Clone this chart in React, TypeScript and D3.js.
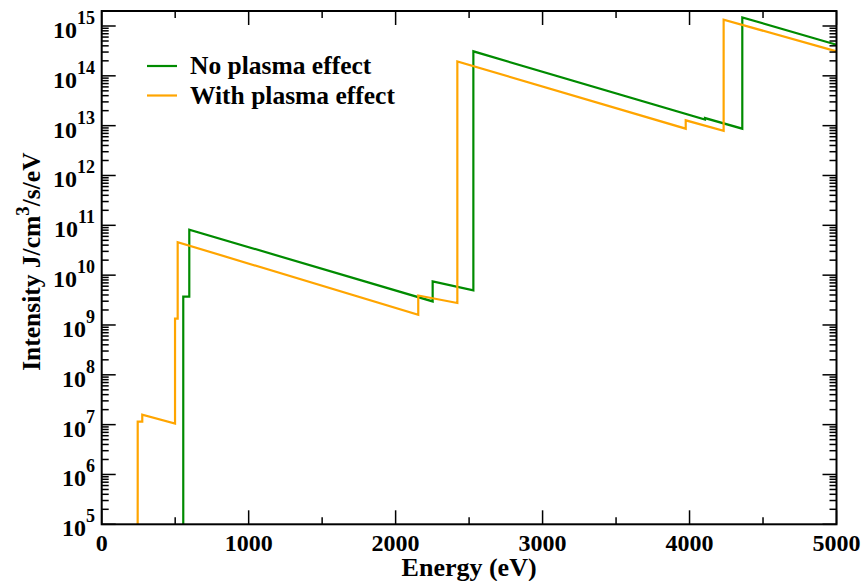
import React from "react";
import * as d3 from "d3";

const xTicks = [0, 1000, 2000, 3000, 4000, 5000];
const xMinorTicks = [500, 1500, 2500, 3500, 4500];
const yExponents = [5, 6, 7, 8, 9, 10, 11, 12, 13, 14, 15];

const noPlasmaE = [555, 555, 596, 596, 2252, 2252, 2529, 2529, 4105, 4105, 4359, 4359, 5000];
const noPlasmaV = [1e3, 3.7e9, 3.7e9, 8.2e10, 2.97e9, 7.5e9, 4.94e9, 3.1e14, 1.32e13, 1.42e13, 8.7e12, 1.49e15, 4.2e14];

const plasmaE = [244, 245, 245, 276, 276, 499, 499, 517, 517, 2154, 2154, 2420, 2420, 3974, 3974, 4232, 4232, 5000];
const plasmaV = [1e3, 5e5, 1.15e7, 1.15e7, 1.58e7, 1.05e7, 1.34e9, 1.34e9, 4.6e10, 1.6e9, 3.9e9, 2.76e9, 1.95e14, 8.7e12, 1.28e13, 7.9e12, 1.34e15, 3.1e14];

const seriesNames = ["No plasma effect", "With plasma effect"];
const seriesColors = ["#008b00", "#ffa500"];

const W = 864;
const H = 581;
const L = 101.7, R = 836.5, T = 11, B = 524.3;
const FONT = "'Liberation Serif', 'Times New Roman', serif";

export default function App() {
  const x = d3.scaleLinear().domain([0, 5000]).range([L, R]);
  const y = d3.scaleLog().domain([1e5, 2e15]).range([B, T]);
  const line = d3
    .line<[number, number]>()
    .x((d) => x(d[0]))
    .y((d) => y(d[1]));

  const series = [
    noPlasmaE.map((e, i) => [e, noPlasmaV[i]] as [number, number]),
    plasmaE.map((e, i) => [e, plasmaV[i]] as [number, number]),
  ];

  const majorLen = 14;
  const minorLen = 7;
  const yMinor: number[] = [];
  for (let k = 5; k <= 15; k++) {
    for (let m = 2; m <= 9; m++) {
      const v = m * Math.pow(10, k);
      if (v < 2e15) yMinor.push(v);
    }
  }

  return (
    <svg
      width={W}
      height={H}
      style={{ position: "fixed", left: 0, top: 0, background: "#fff" }}
      fontFamily={FONT}
      fontWeight="bold"
    >
      <rect x={0} y={0} width={W} height={H} fill="#fff" />
      <defs>
        <clipPath id="plotclip">
          <rect x={L} y={T} width={R - L} height={B - T} />
        </clipPath>
      </defs>

      {/* data lines */}
      <g clipPath="url(#plotclip)">
        {series.map((s, i) => (
          <path
            key={i}
            d={line(s) || ""}
            fill="none"
            stroke={seriesColors[i]}
            strokeWidth={2.2}
            strokeLinejoin="miter"
          />
        ))}
      </g>

      {/* ticks */}
      <g stroke="#000" strokeWidth={1.5}>
        {xTicks.map((t) => (
          <g key={"xt" + t}>
            <line x1={x(t)} x2={x(t)} y1={B} y2={B - majorLen} />
            <line x1={x(t)} x2={x(t)} y1={T} y2={T + majorLen} />
          </g>
        ))}
        {xMinorTicks.map((t) => (
          <g key={"xm" + t}>
            <line x1={x(t)} x2={x(t)} y1={B} y2={B - minorLen} />
            <line x1={x(t)} x2={x(t)} y1={T} y2={T + minorLen} />
          </g>
        ))}
        {yExponents.map((k) => {
          const yy = y(Math.pow(10, k));
          return (
            <g key={"yt" + k}>
              <line x1={L} x2={L + majorLen} y1={yy} y2={yy} />
              <line x1={R} x2={R - majorLen} y1={yy} y2={yy} />
            </g>
          );
        })}
        {yMinor.map((v, i) => {
          const yy = y(v);
          return (
            <g key={"ym" + i}>
              <line x1={L} x2={L + minorLen} y1={yy} y2={yy} />
              <line x1={R} x2={R - minorLen} y1={yy} y2={yy} />
            </g>
          );
        })}
      </g>

      {/* frame */}
      <rect x={L} y={T} width={R - L} height={B - T} fill="none" stroke="#000" strokeWidth={2} />

      {/* x tick labels */}
      {xTicks.map((t) => (
        <text key={"xl" + t} x={x(t)} y={551} textAnchor="middle" fontSize={24} fill="#000">
          {t}
        </text>
      ))}

      {/* y tick labels */}
      {yExponents.map((k) => {
        const yy = y(Math.pow(10, k));
        return (
          <text key={"yl" + k} x={95} y={yy + 12} textAnchor="end" fontSize={24} fill="#000">
            10
            <tspan dy={-14} fontSize={18}>
              {k}
            </tspan>
          </text>
        );
      })}

      {/* axis titles */}
      <text x={(L + R) / 2} y={576} textAnchor="middle" fontSize={26} fill="#000">
        Energy (eV)
      </text>
      <text
        transform={`translate(40, ${(T + B) / 2 - 6}) rotate(-90)`}
        textAnchor="middle"
        fontSize={25.5}
        fill="#000"
      >
        Intensity J/cm
        <tspan dy={-11} fontSize={19}>3</tspan>
        <tspan dy={11}>/s/eV</tspan>
      </text>

      {/* legend */}
      {seriesNames.map((name, i) => (
        <g key={"lg" + i}>
          <line
            x1={147}
            x2={177}
            y1={66 + i * 29.5}
            y2={66 + i * 29.5}
            stroke={seriesColors[i]}
            strokeWidth={2.2}
          />
          <text x={190} y={74 + i * 29.5} fontSize={25.5} fill="#000">
            {name}
          </text>
        </g>
      ))}
    </svg>
  );
}
